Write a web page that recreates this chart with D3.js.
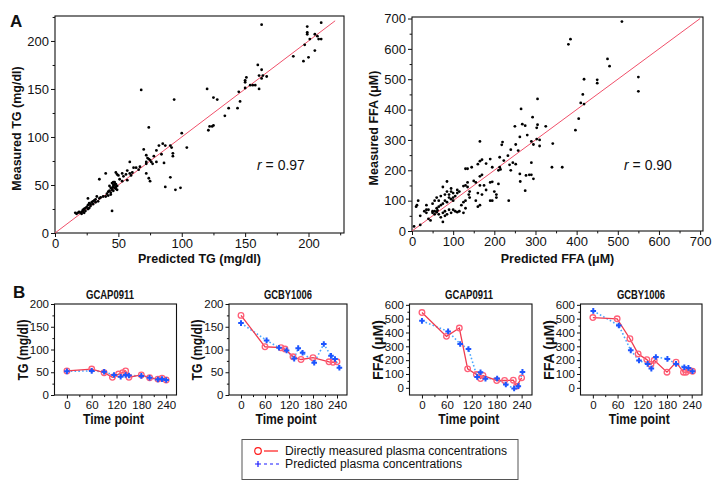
<!DOCTYPE html>
<html><head><meta charset="utf-8">
<script src="https://cdn.jsdelivr.net/npm/d3@7"></script>
<style>
body{margin:0;background:#fff}
svg text{font-family:"Liberation Sans",Arial,Helvetica,sans-serif;fill:#111}
</style>
</head><body>
<svg id="c" width="719" height="491"></svg>
<script>
// ---------- DATA ----------
// Panel A left: [predicted TG, measured TG] (mg/dl)
const tgPoints = [
[210,219],[199,215],[199,209],[199,207],[205,207],[207,205],[208,202],[201,202],[210,202],[197,196],[205,190],[200,183],[196,179],[188,184],
[163,217],[160,175],[163,170],[161,164],[164,164],[167,163],[163,161],[161,150],[158,154],[156,154],[154,154],[150,159],[150,157],[151,162],[150,151],[145,147],[146,137],[144,130],[137,130],[134,122],[120,150],[125,141],[128,139],[125,112],[124,111],[122,111],[121,107],
[94,139],[68,149],[100,104],[74,110],[104,89],[99,47],[95,45],[87,48],[91,58],
[85,93],[87,91],[91,91],[92,89],[93,83],[93,80],[82,91],[80,86],[84,82],[86,73],[78,80],[75,76],[76,74],[77,72],[74,77],[72,74],[73,78],[70,87],[72,81],[72,72],[72,62],[74,57],[75,54],[80,74],[67,69],[66,66],[62,68],[64,68],[59,62],[61,63],[60,60],[57,65],[53,62],[54,59],[56,61],[51,56],[53,54],[49,61],[50,60],[40,62],[35,56],[59,74],[57,55],[48,63],
[45,45],[46,48],[47,50],[44,47],[45,52],[47,53],[48,46],[46,44],[44,42],[43,49],[48,51],[46,50],[45,47],[47,47],[49,49],[43,44],[42,43],[44,40],[41,41],[42,39],[40,38],[45,23],[47,52],[48,48],[46,53],[49,45],
[38,38],[36,37],[33,38],[32,35],[30,33],[29,32],[31,34],[28,30],[27,31],[26,29],[30,30],[32,32],[34,33],[35,36],[26,36],[25,27],[24,26],[23,25],[22,24],[21,22],[20,21],[19,22],[18,21],[17,20],[16,21],[21,20],[23,21],[22,23],[24,23],[26,25],[28,28],[27,26]
];
// Panel A right: [predicted FFA, measured FFA] (µM)
const ffaPoints = [
[510,690],[385,632],[380,615],[475,567],[480,543],[550,507],[550,460],[450,498],[450,487],[418,500],[415,450],[418,418],[410,422],[405,370],[397,332],
[305,435],[265,402],[293,375],[268,352],[275,347],[250,345],[305,350],[303,340],[325,345],
[280,316],[262,310],[290,295],[295,285],[303,303],[310,300],[310,280],[342,288],
[220,293],[218,284],[165,295],
[252,285],[258,265],[240,268],[233,248],[213,243],[223,232],[245,225],[237,218],[252,220],
[340,210],[365,210],[290,225],[285,185],[290,185],[295,172],[277,183],[262,188],[263,163],[275,133],[235,100],
[240,200],[213,210],[215,203],[210,200],
[170,235],[165,230],[160,220],[190,237],[145,210],[130,205],[135,205],
[180,222],[195,210],[210,155],[195,162],[190,160],[170,185],[165,180],[150,165],[155,160],[165,150],
[175,150],[180,135],[200,130],[205,120],[190,100],[195,100],[205,110],[170,120],[160,125],[155,100],[160,80],[165,85],
[135,160],[130,150],[125,148],[135,145],[140,130],[138,120],[140,110],[130,100],[125,95],[120,85],[130,75],[115,65],[110,62],[105,65],[100,70],[125,60],
[115,130],[110,125],[105,115],[100,110],[100,100],[95,105],[90,110],[85,95],[80,100],[75,90],[70,85],[65,80],[60,75],[55,65],[60,62],[62,68],[50,60],[55,55],[65,55],[75,60],[80,65],[90,70],[95,60],[85,55],[70,45],[75,30],[80,50],
[85,163],[75,145],[95,140],[100,125],[90,120],[70,115],[60,110],[55,100],[65,100],[80,120],[85,130],[95,130],[110,135],
[15,100],[10,80],[35,85],[20,50],[30,65],[40,40],[45,35],[20,20],[5,15],[35,60],[50,65],[12,85],[50,90],[40,70],[35,70]
];
const tgTicks = [0,50,100,150,200];
const ffaTicks = [0,100,200,300,400,500,600,700];
const timeTicks = [0,60,120,180,240];
const tgSmallTicks = [0,50,100,150,200];
const ffaSmallTicks = [0,100,200,300,400,500,600];

// Panel B time courses
const tgAP_measT = [0,60,90,110,125,135,142,150,180,200,220,230,240];
const tgAP_meas  = [53,57,49,39,46,49,53,39,44,38,35,37,33];
const tgAP_predT = [0,60,90,114,130,142,150,180,200,220,230,240];
const tgAP_pred  = [52,53,51,44,40,44,43,42,38,34,35,33];

const tgBY_measT = [0,60,100,110,130,150,180,220,230,240];
const tgBY_meas  = [175,106,104,101,84,78,82,73,72,73];
const tgBY_predT = [0,64,95,114,133,143,154,183,207,225,235,246];
const tgBY_pred  = [158,120,104,98,80,103,93,71,112,86,79,60];

const ffaAP_measT = [0,59,90,110,131,141,147,180,199,220,228,240];
const ffaAP_meas  = [544,372,432,137,96,67,89,53,53,55,12,72];
const ffaAP_predT = [0,63,92,112,133,141,153,181,202,222,232,242];
const ffaAP_pred  = [484,408,317,281,79,113,65,67,24,-5,12,115];

const ffaBY_measT = [0,59,90,110,131,141,149,180,202,220,226,234,242];
const ffaBY_meas  = [508,499,355,245,204,168,199,113,185,113,113,127,120];
const ffaBY_predT = [1,63,92,112,133,142,153,181,202,222,232,242];
const ffaBY_pred  = [556,451,271,197,173,139,223,209,173,149,144,120];

// ---------- DRAW ----------
const svg = d3.select("#c");
const RED = "#f03c50", BLUE = "#1d55ff", LBLUE = "#4aa6ff";

function frame(g, x, y, xMajor, xMinor, yMajor, yMinor, fs, tickLen) {
  const [x0,x1] = x.range(), [y0,y1] = y.range();
  g.append("g").attr("transform",`translate(0,${y0})`)
    .call(d3.axisBottom(x).tickValues(xMinor).tickSize(tickLen*0.6).tickFormat(""))
    .call(a=>a.select(".domain").remove());
  g.append("g").attr("transform",`translate(${x0},0)`)
    .call(d3.axisLeft(y).tickValues(yMinor).tickSize(tickLen*0.6).tickFormat(""))
    .call(a=>a.select(".domain").remove());
  const xa = g.append("g").attr("transform",`translate(0,${y0})`)
    .call(d3.axisBottom(x).tickValues(xMajor).tickSize(tickLen).tickPadding(2));
  xa.select(".domain").remove();
  xa.selectAll("text").attr("font-size",fs).style("fill","#111");
  const ya = g.append("g").attr("transform",`translate(${x0},0)`)
    .call(d3.axisLeft(y).tickValues(yMajor).tickSize(tickLen).tickPadding(2));
  ya.select(".domain").remove();
  ya.selectAll("text").attr("font-size",fs).style("fill","#111");
  g.selectAll(".tick line").attr("stroke","#111");
  g.append("rect").attr("x",x0).attr("y",y1).attr("width",x1-x0).attr("height",y0-y1)
    .attr("fill","none").attr("stroke","#111").attr("stroke-width",1.1);
}

function scatter(opt) {
  const g = svg.append("g");
  const x = d3.scaleLinear().domain(opt.xd).range([opt.l, opt.r]);
  const y = d3.scaleLinear().domain(opt.yd).range([opt.b, opt.t]);
  frame(g, x, y, opt.ticks, opt.minor, opt.ticks, opt.minor, 13, 4);
  g.append("line").attr("x1",x(0)).attr("y1",y(0)).attr("x2",x(opt.lineEnd)).attr("y2",y(opt.lineEnd))
    .attr("stroke","#f0506a").attr("stroke-width",1);
  g.selectAll("circle.pt").data(opt.data).join("circle").attr("class","pt")
    .attr("cx",d=>x(d[0])).attr("cy",d=>y(d[1])).attr("r",1.4).attr("fill","#000");
  g.append("text").attr("x",(opt.l+opt.r)/2).attr("y",263).attr("text-anchor","middle")
    .attr("font-size",12.5).attr("font-weight","bold").text(opt.xlab);
  g.append("text").attr("transform",`translate(${opt.l-34},${(opt.t+opt.b)/2+4}) rotate(-90)`)
    .attr("text-anchor","middle").attr("font-size",12.5).attr("font-weight","bold").text(opt.ylab);
  const rt = g.append("text").attr("x",opt.rx).attr("y",170).attr("font-size",14);
  rt.append("tspan").attr("font-style","italic").text("r");
  rt.append("tspan").text(" = " + opt.r2);
}

scatter({data:tgPoints, xd:[0,228], yd:[0,226], l:55, r:344, t:16, b:233,
  ticks:tgTicks, minor:[25,75,125,175,225].filter(v=>v<226), lineEnd:221,
  xlab:"Predicted TG (mg/dl)", ylab:"Measured TG (mg/dl)", rx:257, r2:"0.97"});
scatter({data:ffaPoints, xd:[0,707], yd:[0,705], l:412, r:703, t:17, b:231,
  ticks:ffaTicks, minor:[50,150,250,350,450,550,650], lineEnd:700,
  xlab:"Predicted FFA (\u03bcM)", ylab:"Measured FFA (\u03bcM)", rx:624, r2:"0.90"});

svg.append("text").attr("x",10).attr("y",27).attr("font-size",17).attr("font-weight","bold").text("A");
svg.append("text").attr("x",13).attr("y",298).attr("font-size",17).attr("font-weight","bold").text("B");

function panel(opt) {
  const g = svg.append("g");
  const x = d3.scaleLinear().domain([-30,265]).range([opt.l, opt.r]);
  const y = d3.scaleLinear().domain(opt.yd).range([395, 304]);
  frame(g, x, y, timeTicks, [30,90,150,210], opt.yticks, opt.yminor, 11.5, 3.5);
  const mLine = d3.line().x(d=>x(d[0])).y(d=>y(d[1]));
  const meas = opt.mT.map((t,i)=>[t,opt.mV[i]]);
  const pred = opt.pT.map((t,i)=>[t,opt.pV[i]]);
  g.append("path").attr("d",mLine(pred)).attr("fill","none").attr("stroke",LBLUE)
    .attr("stroke-width",1.6).attr("stroke-dasharray","1.6,2.2");
  g.append("path").attr("d",mLine(meas)).attr("fill","none").attr("stroke",RED).attr("stroke-width",1.3);
  g.selectAll("circle.m").data(meas).join("circle").attr("class","m")
    .attr("cx",d=>x(d[0])).attr("cy",d=>y(d[1])).attr("r",2.8)
    .attr("fill","none").attr("stroke","#ff5f78").attr("stroke-width",1.3);
  g.selectAll("path.p").data(pred).join("path").attr("class","p")
    .attr("d",d=>{const cx=x(d[0]),cy=y(d[1]);return `M${cx-2.8},${cy}H${cx+2.8}M${cx},${cy-2.8}V${cy+2.8}`;})
    .attr("stroke",BLUE).attr("stroke-width",2);
  g.append("text").attr("x",opt.tx).attr("y",299).attr("text-anchor","middle")
    .attr("font-size",12).attr("font-weight","bold")
    .attr("textLength",48).attr("lengthAdjust","spacingAndGlyphs").text(opt.title);
  g.append("text").attr("x",(opt.l+opt.r)/2 - 2).attr("y",424).attr("text-anchor","middle")
    .attr("font-size",14).attr("font-weight","bold")
    .attr("textLength",61).attr("lengthAdjust","spacingAndGlyphs").text("Time point");
  g.append("text").attr("transform",`translate(${opt.l-27},350) rotate(-90)`)
    .attr("text-anchor","middle").attr("font-size",14).attr("font-weight","bold")
    .attr("textLength",opt.ylabLen).attr("lengthAdjust","spacingAndGlyphs").text(opt.ylab);
}

panel({l:54.5,r:176.5,tx:110,yd:[0,200],yticks:tgSmallTicks,yminor:[25,75,125,175],ylabLen:61,
  mT:tgAP_measT,mV:tgAP_meas,pT:tgAP_predT,pV:tgAP_pred,title:"GCAP0911",ylab:"TG (mg/dl)"});
panel({l:229,r:347,tx:288,yd:[0,200],yticks:tgSmallTicks,yminor:[25,75,125,175],ylabLen:61,
  mT:tgBY_measT,mV:tgBY_meas,pT:tgBY_predT,pV:tgBY_pred,title:"GCBY1006",ylab:"TG (mg/dl)"});
panel({l:409.5,r:532,tx:469,yd:[-52,606],yticks:ffaSmallTicks,yminor:[50,150,250,350,450,550],ylabLen:60,
  mT:ffaAP_measT,mV:ffaAP_meas,pT:ffaAP_predT,pV:ffaAP_pred,title:"GCAP0911",ylab:"FFA (\u03bcM)"});
panel({l:580.5,r:702,tx:641,yd:[-52,606],yticks:ffaSmallTicks,yminor:[50,150,250,350,450,550],ylabLen:60,
  mT:ffaBY_measT,mV:ffaBY_meas,pT:ffaBY_predT,pV:ffaBY_pred,title:"GCBY1006",ylab:"FFA (\u03bcM)"});

// legend
const lg = svg.append("g");
lg.append("rect").attr("x",242).attr("y",439.5).attr("width",276).attr("height",40)
  .attr("fill","#fff").attr("stroke","#555").attr("stroke-width",1);
lg.append("circle").attr("cx",258).attr("cy",451).attr("r",3.3).attr("fill","none").attr("stroke","#ff1a1a").attr("stroke-width",1.2);
lg.append("line").attr("x1",264).attr("x2",278).attr("y1",451).attr("y2",451).attr("stroke","#ff1a1a").attr("stroke-width",1.2);
lg.append("path").attr("d","M255,464H261M258,461V467").attr("stroke","#1a1aff").attr("stroke-width",1.2);
lg.append("line").attr("x1",264).attr("x2",281).attr("y1",464).attr("y2",464).attr("stroke","#1a1aff")
  .attr("stroke-width",1.2).attr("stroke-dasharray","3,3");
lg.append("text").attr("x",285).attr("y",455).attr("font-size",12.3)
  .attr("textLength",222).attr("lengthAdjust","spacingAndGlyphs").text("Directly measured plasma concentrations");
lg.append("text").attr("x",285).attr("y",468).attr("font-size",12.3)
  .attr("textLength",177).attr("lengthAdjust","spacingAndGlyphs").text("Predicted plasma concentrations");
</script>
</body></html>
